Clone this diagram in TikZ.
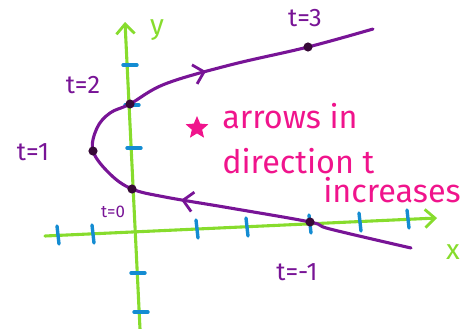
\documentclass[tikz,border=0pt]{standalone}
\usepackage{fontspec}
\setmainfont{Fira Sans}
\usetikzlibrary{arrows.meta}
\usetikzlibrary{decorations.markings}
\usetikzlibrary{shapes.geometric}
\definecolor{curvepurple}{RGB}{120,20,150}
\definecolor{dotpurple}{RGB}{55,10,55}
\definecolor{axisgreen}{RGB}{135,220,45}
\definecolor{tickblue}{RGB}{20,140,210}
\definecolor{notepink}{RGB}{240,20,140}

\begin{document}
\begin{tikzpicture}[x=0.025cm, y=-0.025cm,
        axis/.style={draw=axisgreen, line width=2.2pt, line cap=round,
            -{Straight Barb[length=7pt, width=13pt, line width=2pt]}},
        tickmark/.style={draw=tickblue, line width=2.4pt, line cap=round},
        curve/.style={draw=curvepurple, line width=2.2pt, line cap=round,
            postaction={decorate}, decoration={markings,
            mark=at position 0.355 with {\arrow{Straight Barb[length=7pt, width=14pt, line width=2pt]}},
            mark=at position 0.74 with {\arrow{Straight Barb[length=7pt, width=14pt, line width=2pt]}}}},
        pt/.style={circle, fill=dotpurple, inner sep=0pt, minimum size=6.5pt},
        tlabel/.style={text=curvepurple, font=\fontsize{18}{18}\selectfont},
        axlabel/.style={text=axisgreen, font=\fontsize{20}{20}\selectfont},
        note/.style={text=notepink, anchor=west, inner sep=0pt, font=\fontsize{23}{23}\selectfont}]
    \useasboundingbox (0,0) rectangle (461,329);

    % axes
    \coordinate (xstart) at (45,236);
    \coordinate (xend) at (437,218);
    \coordinate (ystart) at (140,329);
    \coordinate (yend) at (125,22);
    \draw[axis] (xstart) -- (xend);
    \draw[axis] (ystart) -- (yend);
    \node[axlabel] (ylab) at (157,30) {y};
    \node[axlabel] (xlab) at (453,252) {x};

    % ticks
    \foreach \x/\y in {58/235,93/234,197/229,247/227,310/224,360/222,408/219}
        \draw[tickmark] (\x-1,\y-9) -- (\x+1,\y+9);
    \foreach \y/\x in {65/130,105/132,148/134,273/138,312/141}
        \draw[tickmark] (\x-7,\y) -- (\x+7,\y);

    % the curve
    \coordinate (tm1) at (310,222);
    \coordinate (t0) at (132,189);
    \coordinate (t1) at (93,151);
    \coordinate (t2) at (130,104);
    \coordinate (t3) at (308,47);
    \draw[curve] plot[smooth, tension=0.6] coordinates {(411,248) (330,229) (tm1)
        (230,208) (165,197) (t0) (110,174) (t1) (97,128) (110,113) (t2)
        (165,84) (230,65) (t3) (373,29)};
    \foreach \p in {tm1,t0,t1,t2,t3}
        \node[pt] at (\p) {};

    \node[tlabel] (l3) at (305,18) {t=3};
    \node[tlabel] (l2) at (83,85) {t=2};
    \node[tlabel] (l1) at (33,152) {t=1};
    \node[tlabel, font=\fontsize{12}{12}\selectfont] (l0) at (113,212) {t=0};
    \node[tlabel] (lm1) at (297,272) {t=-1};

    % note
    \node[star, star points=5, star point ratio=2.2, fill=notepink, inner sep=0pt,
        minimum size=17pt] (starmark) at (197,128) {};
    \node[note] (line1) at (222,116) {arrows in};
    \node[note] (line2) at (222,161) {direction t};
    \node[note] (line3) at (323,190) {increases};
\end{tikzpicture}
\end{document}
